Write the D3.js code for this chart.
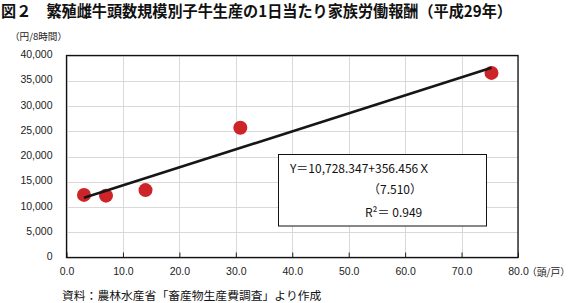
<!DOCTYPE html>
<html><head><meta charset="utf-8">
<script src="https://cdn.jsdelivr.net/npm/d3@7"></script>
<style>body{margin:0;background:#fff}svg{display:block}</style>
</head><body>
<svg id="c" width="572" height="303"></svg>
<script>
const farmSize = [3.1, 7.0, 14.0, 30.8, 75.3];          // 頭/戸
const laborReward = [12400, 12250, 13350, 25700, 36550]; // 円/8時間
const intercept = 10728.347;
const slope = 356.456;
const xTicks = [0,10,20,30,40,50,60,70,80];
const yTicks = [0,5000,10000,15000,20000,25000,30000,35000,40000];
const titleText = "図２　繁殖雌牛頭数規模別子牛生産の1日当たり家族労働報酬（平成29年）";
const yUnit = "（円/8時間）";
const xUnit = "（頭/戸）";
const sourceText = "資料：農林水産省「畜産物生産費調査」より作成";
const eqLines = ["Y＝10,728.347+356.456Ｘ", "（7.510）", "R²＝ 0.949"];

const svg = d3.select("#c");
const jp = "'Noto Sans CJK JP','Noto Sans',sans-serif";
const num = "'Liberation Sans',Arial,sans-serif";
const L=66.5, R=518, T=55.5, B=257.5;
const x = d3.scaleLinear().domain([0,80]).range([L,R]);
const y = d3.scaleLinear().domain([0,40000]).range([B,T]);

svg.append("text").attr("x",1).attr("y",16.5).attr("font-family",jp).attr("font-weight","bold")
  .attr("font-size",15.5).attr("fill","#111").attr("textLength",511).attr("lengthAdjust","spacingAndGlyphs").text(titleText);
svg.append("text").attr("x",10).attr("y",40).attr("font-family",jp).attr("font-size",9.6).attr("fill","#222").text(yUnit);

// grid
svg.append("g").selectAll("line").data(yTicks).join("line")
  .attr("x1",L).attr("x2",R).attr("y1",d=>Math.round(y(d))+0.5).attr("y2",d=>Math.round(y(d))+0.5)
  .attr("stroke","#d9d9d9").attr("stroke-width",1);
svg.append("g").selectAll("line").data(xTicks).join("line")
  .attr("y1",T).attr("y2",B).attr("x1",d=>Math.round(x(d))+0.5).attr("x2",d=>Math.round(x(d))+0.5)
  .attr("stroke","#d9d9d9").attr("stroke-width",1);

// axes
const yAxis = svg.append("g").attr("transform",`translate(${L},0)`)
  .call(d3.axisLeft(y).tickValues(yTicks).tickSize(0).tickPadding(14).tickFormat(d3.format(",")));
yAxis.select(".domain").remove();
yAxis.selectAll("text").attr("font-family",num).attr("font-size",10.5).attr("fill","#222").attr("dy","0.2em");
const xAxis = svg.append("g").attr("transform",`translate(0,${B})`)
  .call(d3.axisBottom(x).tickValues(xTicks).tickSizeInner(-5).tickSizeOuter(0).tickPadding(10).tickFormat(d3.format(".1f")));
xAxis.select(".domain").remove();
xAxis.selectAll("line").attr("stroke","#222");
xAxis.selectAll("text").attr("font-family",num).attr("font-size",10.5).attr("fill","#222");
svg.append("text").attr("x",527).attr("y",B+18.5).attr("font-family",jp).attr("font-size",9.8).attr("fill","#222").text(xUnit);

svg.append("rect").attr("x",L).attr("y",T).attr("width",R-L).attr("height",B-T)
  .attr("fill","none").attr("stroke","#111").attr("stroke-width",1.3);

// points
svg.append("g").selectAll("circle").data(farmSize).join("circle")
  .attr("cx",d=>x(d)).attr("cy",(d,i)=>y(laborReward[i])).attr("r",7).attr("fill","#cc2428");

// regression line
const x0 = d3.min(farmSize), x1 = d3.max(farmSize);
svg.append("line").attr("x1",x(x0)).attr("y1",y(intercept+slope*x0))
  .attr("x2",x(x1)).attr("y2",y(intercept+slope*x1)).attr("stroke","#161616").attr("stroke-width",2.6);

// equation box
svg.append("rect").attr("x",278.5).attr("y",154.5).attr("width",208).attr("height",71.5)
  .attr("fill","#fff").attr("stroke","#111").attr("stroke-width",1);
svg.append("text").attr("x",290).attr("y",173).attr("font-family",jp).attr("font-size",12).attr("fill","#111").text(eqLines[0]);
svg.append("text").attr("x",395).attr("y",194).attr("text-anchor","middle").attr("font-family",jp).attr("font-size",12).attr("fill","#111").text(eqLines[1]);
svg.append("text").attr("x",365).attr("y",217).attr("font-family",jp).attr("font-size",12).attr("fill","#111").text(eqLines[2]);

svg.append("text").attr("x",62).attr("y",300).attr("font-family",jp).attr("font-size",11.8).attr("fill","#111").text(sourceText);
</script>
</body></html>
